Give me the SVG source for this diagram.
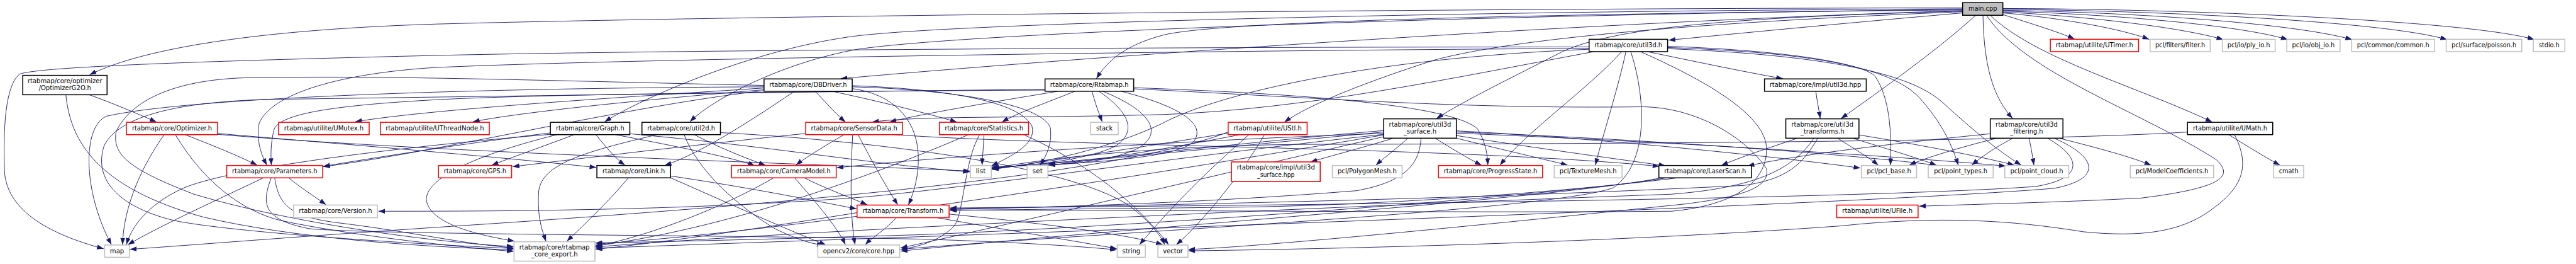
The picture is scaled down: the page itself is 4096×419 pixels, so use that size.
<svg xmlns="http://www.w3.org/2000/svg" width="4096" height="419" viewBox="0 0 4096 419">
<defs>
<marker id="a" markerUnits="userSpaceOnUse" markerWidth="14" markerHeight="10" viewBox="0 0 14 10" refX="14" refY="5" orient="auto"><path d="M0,0 L14,5 L0,10 z" fill="#191970"/></marker>
<style>
.n rect{fill:#fff;stroke-width:2}
.b rect{stroke:#000}
.r rect{stroke:#f00}
.g rect{stroke:#bfbfbf}
.m rect{fill:#bfbfbf;stroke:#000}
text{font-family:"DejaVu Sans","Liberation Sans",Arial,sans-serif;font-size:13px;fill:#000;text-anchor:middle}
.e path{fill:none;stroke:#191970;stroke-width:1.2;marker-end:url(#a)}
</style>
</defs>
<rect width="4096" height="419" fill="#fff"/>
<g transform="scale(0.77036)">
<g id="edges" class="e">
<path d="M4134,30 C4190,48 4250,66 4282,80.5"/>
<path d="M4134,26.6 C4260,37.5 4380,60 4436,81"/>
<path d="M4134,24.8 C4300,33 4500,55.6 4589,81.6"/>
<path d="M4134,23 C4350,29 4620,50.8 4722,81.6"/>
<path d="M4134,21.2 C4400,25.4 4730,47.1 4855,81.6"/>
<path d="M4134,19.3 C4450,21.8 4920,43.5 5051,81.6"/>
<path d="M4134,17.5 C4500,18.1 5100,42.3 5231,81.6"/>
<path d="M4108,31.4 C4200,120.9 4420,181.3 4566,251.4"/>
<path d="M4100,31.4 C4180,151.1 4420,229.7 4575,329.4 C4610,362.6 4590,386.8 4420,408 C4250,417 4100,420 3961,424.9"/>
<path d="M4093,31.4 C4095,151.1 4120,205.5 4154,244.2"/>
<path d="M4078,31.4 C4000,102.7 3880,187.4 3800,244.2"/>
<path d="M4051,26.6 C3800,48.4 3600,67.7 3444,82.8"/>
<path d="M4051,23 C3600,35.1 3330,54.4 3220,108.8 C3120,160.2 3020,208.5 2965,244.2"/>
<path d="M4051,24.2 C3600,42.3 3150,72.5 2960,123.9 C2800,175.3 2700,217.6 2651,251.4"/>
<path d="M4051,20.5 C3300,27.2 2520,41.1 2400,72.5 C2320,93.7 2285,126.9 2263,162"/>
<path d="M4051,21.8 C3200,48.4 2200,120.9 1735,162"/>
<path d="M4051,18.1 C3000,23 2000,47.1 1770,73.7 C1560,99.7 1330,199.5 1248,250.8"/>
<path d="M4051,19.3 C3000,31.4 2000,67.7 1770,101.5 C1610,130 1470,205.5 1424,250.8"/>
<path d="M4051,16.3 C3000,16.9 1500,33.2 900,49.6 C550,60.4 300,96.7 185,154.1"/>
<path d="M184,195.2 C230,211.5 280,232.7 323,251.4"/>
<path d="M136,195.2 C145,290.1 200,386.8 420,447.3 C600,489.6 850,507.7 1060,514.9"/>
<path d="M339,277.4 C295,338.5 255,423.1 253,504.1"/>
<path d="M382,277.4 C430,296 490,320 531,340.3"/>
<path d="M362,277.4 C420,374.7 500,435.2 580,454.5 C720,483.5 900,504.7 1060,518"/>
<path d="M449,275 C700,296.2 1000,320.3 1231,345.1"/>
<path d="M449,276.8 C900,314.3 1700,338.5 2002,352.4"/>
<path d="M1577,181.3 C1300,199.5 900,223.6 733,250.8"/>
<path d="M1577,184.9 C1400,199.5 1100,226.7 976,250.8"/>
<path d="M1577,186.8 C1300,217.6 900,314.3 667,343.3"/>
<path d="M1577,178.9 C1000,181.3 400,199.5 220,239.3 C170,259.9 170,392.9 230,504.1"/>
<path d="M1640,188 C1560,241.8 1450,314.3 1372,340.9"/>
<path d="M1682,188 C1700,205.5 1720,229.7 1745,251.4"/>
<path d="M1717,188 C1800,205.5 1900,229.7 1975,251.4"/>
<path d="M1759,176.5 C1900,181.3 2100,199.5 2130,259.9 C2140,296.2 2090,320.3 2046,342.1"/>
<path d="M1759,178.9 C1950,184.3 2150,211.5 2168,263.5 C2172,296.2 2160,320.3 2147,340.3"/>
<path d="M1759,182.5 C1840,193.4 1890,241.8 1895,314.3 C1898,362.6 1885,398.9 1875,422.5"/>
<path d="M1577,176 C1200,168 800,155 544,160 C400,158 280,190 240,270 C230,320 270,350 400,400 C600,460 900,500 1060,508"/>
<path d="M2219,188 C2160,211.5 2100,232.7 2068,251.4"/>
<path d="M2254,188 C2260,211.5 2268,232.7 2275,250.8"/>
<path d="M2268,188 C2330,229.7 2350,272 2300,302.2 C2250,326.4 2150,339.7 2047,345.7"/>
<path d="M2276,188 C2380,230 2400,275 2350,305 C2300,330 2220,338 2164,339.7"/>
<path d="M2314,188 C2430,217.6 2490,253.8 2465,290.1 C2440,320.3 2300,336 2047,344"/>
<path d="M2340,180.7 C2700,193.4 3000,217.6 3050,265.9 C3068,296.2 3070,320.3 3071,340.3"/>
<path d="M2340,183 C2700,200 3000,225 3393,220 C3500,222 3600,280 3646,347 C3655,385 3600,405 3480,420 C3000,470 2600,508 2453,514"/>
<path d="M2184,188 C2050,210 1900,235 1836,251.4"/>
<path d="M2157,185.6 C1600,188.6 1100,194.6 900,205.5 C700,216.4 580,232.7 566,265.9 C558,296.2 559,320.3 560,340.3"/>
<path d="M2157,184 C1600,190 900,200 544,205 C400,210 250,230 215,300 C195,360 230,420 350,452 C420,470 700,495 1060,512"/>
<path d="M3400,106.4 C3500,126.9 3600,148.1 3680,162"/>
<path d="M3347,106.4 C3280,181.3 3150,272 3096,340.3"/>
<path d="M3356,106.4 C3340,181.3 3310,272 3293,340.3"/>
<path d="M3442,95.5 C3700,104 3850,133 3870,157.1 C3900,199.5 3905,272 3902,340.3"/>
<path d="M3442,97.9 C3750,108.8 3900,139 3960,199.5 C4010,253.8 4030,302.2 4042,340.3"/>
<path d="M3442,100.3 C3800,114.8 3950,157.1 4010,211.5 C4070,265.9 4120,308.2 4172,340.3"/>
<path d="M3386,106.4 C3500,157.1 3640,229.7 3646,302.2 C3650,374.7 3580,423.1 3450,435.2 C3000,438.8 2400,432.8 1961,432.8"/>
<path d="M3366,106.4 C3400,211.5 3400,338.5 3330,386.8 C3200,435.2 2200,483.5 1859,513.7"/>
<path d="M3280,96.7 C2500,96.7 1400,102.7 900,114.2 C500,123.9 80,136 40,152.9 C5,181.3 8,302.2 9,346.9 C10,411 60,471.4 214,512.5"/>
<path d="M3280,99.7 C2500,104 1300,120.9 900,139 C700,151.1 560,193.4 535,253.8 C528,290.1 540,320.3 551,340.3"/>
<path d="M3290,106.4 C3000,160 2700,225 2400,236 C2100,244 1900,238 1800,251.4"/>
<path d="M3280,101.5 C2800,120.9 2500,199.5 2400,253.8 C2300,302.2 2150,338.5 2047,348.1"/>
<path d="M3748,188 C3750,205.5 3754,223.6 3757,244.2"/>
<path d="M3710,284.7 C3660,302.2 3600,320.3 3553,340.9"/>
<path d="M3793,284.7 C3830,308.2 3860,326.4 3877,340.3"/>
<path d="M3824,284.7 C3900,308.2 3960,326.4 3997,340.3"/>
<path d="M3837,278 C3950,296.2 4080,320.3 4158,340.3"/>
<path d="M3744,284.7 C3700,350.6 3620,386.8 3450,400.1 C2800,423.1 1600,477.5 1229,508.9"/>
<path d="M3752,284.7 C3720,338.5 3690,368.7 3600,382 C3000,412.2 2300,424.3 1961,429.7"/>
<path d="M4108,275.6 C3900,296.2 3700,320.3 3607,342.1"/>
<path d="M4122,284.7 C4050,302.2 3970,326.4 3941,340.3"/>
<path d="M4155,284.7 C4120,302.2 4085,326.4 4070,340.3"/>
<path d="M4188,284.7 C4192,302.2 4196,326.4 4198,340.3"/>
<path d="M4250,284.7 C4320,302.2 4400,323.4 4440,340.3"/>
<path d="M4226,284.7 C4300,326.4 4300,368.7 4200,384.4 C3800,412.2 2500,424.3 1961,428.5"/>
<path d="M4240,284.7 C4335,326.4 4335,369.9 4240,388 C3800,424.3 2000,483.5 1229,511.3"/>
<path d="M2876,284.7 C2820,302.2 2750,320.3 2705,333.6"/>
<path d="M2906,284.7 C2880,308.2 2855,326.4 2840,340.3"/>
<path d="M2962,284.7 C3000,308.2 3030,326.4 3058,340.3"/>
<path d="M3006,284.7 C3100,308.2 3180,326.4 3236,340.3"/>
<path d="M3006,279.2 C3150,302.2 3350,329.4 3438,341.5"/>
<path d="M3006,269.6 C3300,284.1 3700,326.4 3840,346.3"/>
<path d="M3006,272 C3400,286.5 3850,320.3 3998,340.9"/>
<path d="M3006,274.4 C3400,290.1 3900,320.3 4140,342.1"/>
<path d="M2933,284.7 C2930,338.5 2900,374.7 2800,392.9 C2500,417 2200,426.1 1961,431.5"/>
<path d="M2856,269 C2600,290.1 2300,326.4 2048,346.3"/>
<path d="M2856,272 C2600,296.2 2300,326.4 2164,337.3"/>
<path d="M2856,278 C2500,338.5 1700,471.4 1229,502.9"/>
<path d="M2856,281.7 C2500,362.6 2100,459.3 1859,510.7"/>
<path d="M2856,275 C2400,290.1 1900,326.4 1727,345.7"/>
<path d="M2856,276.8 C2500,314.3 2000,386.8 1780,406.2 C1400,435.2 1000,435.2 781,435.2"/>
<path d="M4600,277.4 C4640,302.2 4680,326.4 4706,340.3"/>
<path d="M4515,272 C4250,288.9 3500,296.2 2700,297.4 C2400,299.2 2150,326.4 2047,347.5"/>
<path d="M4612,277.4 C4650,350.6 4620,392.9 4560,435.2 C4500,477.5 4420,489.6 4300,477.5 C4150,453.3 4000,444.2 3800,465.4 C3300,501.7 2700,513.7 2453,516.8"/>
<path d="M2535,274.4 C2400,296.2 2200,326.4 2047,349.3"/>
<path d="M2560,277.4 C2400,308.2 2250,332.4 2164,340.3"/>
<path d="M2578,277.4 C2500,344.5 2420,423.1 2352,504.1"/>
<path d="M2610,277.4 C2560,362.6 2480,459.3 2428,504.1"/>
<path d="M2535,272 C2300,362.6 1600,423.1 900,468.4 C600,488.4 400,504.7 268,513.7"/>
<path d="M2031,277.4 C2030,302.2 2028,320.3 2027,340.3"/>
<path d="M2113,277.4 C2250,338.5 2350,423.1 2412,504.1"/>
<path d="M2022,277.4 C1990,332.4 1990,435.2 1970,465.4 C1940,495.6 1900,507.7 1859,513.7"/>
<path d="M1999,277.4 C1800,362.6 1500,471.4 1229,506.5"/>
<path d="M1742,277.4 C1700,302.2 1660,326.4 1643,340.3"/>
<path d="M1771,277.4 C1800,332.4 1830,386.8 1853,421.9"/>
<path d="M1760,277.4 C1755,362.6 1755,453.3 1765,504.1"/>
<path d="M1663,275 C1400,302.2 1200,326.4 1058,343.3"/>
<path d="M1846,277.4 C2200,302.2 3000,302.2 3425,342.7"/>
<path d="M1230,277.4 C1250,302.2 1270,326.4 1290,340.3"/>
<path d="M1185,277.4 C1120,302.2 1050,326.4 1015,340.3"/>
<path d="M1270,277.4 C1400,302.2 1520,326.4 1558,341.5"/>
<path d="M1300,275.6 C1600,302.2 1800,338.5 2002,354.2"/>
<path d="M1136,273.8 C1000,290.1 800,320.3 667,342.7"/>
<path d="M1136,276.8 C900,296.2 500,338.5 380,386.8 C300,423.1 270,471.4 261,504.1"/>
<path d="M1150,277.4 C1000,314.3 880,362.6 880,411 C885,459.3 980,483.5 1062,496.8"/>
<path d="M1433,277.4 C1480,302.2 1540,326.4 1580,340.3"/>
<path d="M1412,277.4 C1440,350.6 1520,423.1 1600,471.4 C1640,490.8 1670,501.7 1700,505.3"/>
<path d="M1356,277.4 C1200,314.3 1120,338.5 1112,392.9 C1108,447.3 1120,477.5 1127,497.4"/>
<path d="M1487,273.2 C1800,290.1 2200,338.5 2330,423.1 C2370,453.3 2395,483.5 2404,504.1"/>
<path d="M1297,366.3 C1260,411 1210,459.3 1170,496.8"/>
<path d="M1384,362.6 C1550,386.8 1700,417 1768,430.3"/>
<path d="M1384,366.3 C1500,417 1620,471.4 1705,504.7"/>
<path d="M1597,366.3 C1500,423.1 1350,483.5 1229,507.7"/>
<path d="M1660,366.3 C1700,386.8 1750,405 1790,421.9"/>
<path d="M1640,366.3 C1690,423.1 1730,471.4 1745,504.1"/>
<path d="M1850,448.5 C1830,471.4 1800,489.6 1786,504.1"/>
<path d="M1934,448.5 C2100,477.5 2250,501.7 2305,512.5"/>
<path d="M1959,441.2 C2150,459.3 2330,483.5 2400,504.1"/>
<path d="M1769,438.2 C1600,465.4 1400,495.6 1229,513.7"/>
<path d="M544,366.3 C450,411 330,465.4 264,504.1"/>
<path d="M596,366.3 C620,386.8 650,405 673,421.9"/>
<path d="M560,366.3 C538,423.1 545,453.3 640,471.4 C800,483.5 1400,483.5 1900,492.6 C2100,498.6 2250,508.9 2305,514.9"/>
<path d="M567,366.3 C575,423.1 600,447.3 700,459.3 C850,477.5 950,501.7 1060,510.7"/>
<path d="M3464,366.3 C3350,380.8 3000,417 2600,426.1 C2300,430.3 2100,431.5 1961,433.4"/>
<path d="M3440,366.3 C3300,392.9 2500,459.3 1900,483.5 C1600,492.6 1350,498.6 1229,500.4"/>
<path d="M3430,366.3 C3200,411 2300,471.4 1859,517.4"/>
</g>
<g id="n_main" class="n m"><rect x="4051" y="5.5" width="83" height="26"/><text x="4092.5" y="22.3" textLength="59" lengthAdjust="spacingAndGlyphs">main.cpp</text></g>
<g id="n_optg2o" class="n b"><rect x="47" y="155.3" width="174" height="39.9"/><text x="134" y="170.7" textLength="154" lengthAdjust="spacingAndGlyphs">rtabmap/core/optimizer</text><text x="134" y="185.6" textLength="108" lengthAdjust="spacingAndGlyphs">/OptimizerG2O.h</text></g>
<g id="n_dbdriver" class="n b"><rect x="1577" y="162.6" width="182" height="25.4"/><text x="1668" y="179.1" textLength="160" lengthAdjust="spacingAndGlyphs">rtabmap/core/DBDriver.h</text></g>
<g id="n_rtabmap" class="n b"><rect x="2157" y="162.6" width="183" height="25.4"/><text x="2248.5" y="179.1" textLength="162" lengthAdjust="spacingAndGlyphs">rtabmap/core/Rtabmap.h</text></g>
<g id="n_util3d" class="n b"><rect x="3280" y="81" width="162" height="25.4"/><text x="3361" y="97.5" textLength="140" lengthAdjust="spacingAndGlyphs">rtabmap/core/util3d.h</text></g>
<g id="n_util3dhpp" class="n b"><rect x="3642" y="162.6" width="210" height="25.4"/><text x="3747" y="179.1" textLength="189" lengthAdjust="spacingAndGlyphs">rtabmap/core/impl/util3d.hpp</text></g>
<g id="n_utimer" class="n r"><rect x="4232" y="81" width="182" height="25.4"/><text x="4323" y="97.5" textLength="160" lengthAdjust="spacingAndGlyphs">rtabmap/utilite/UTimer.h</text></g>
<g id="n_filter" class="n g"><rect x="4438" y="81" width="124" height="25.4"/><text x="4500" y="97.5" textLength="103" lengthAdjust="spacingAndGlyphs">pcl/filters/filter.h</text></g>
<g id="n_ply" class="n g"><rect x="4587" y="81" width="109" height="25.4"/><text x="4641.5" y="97.5" textLength="88" lengthAdjust="spacingAndGlyphs">pcl/io/ply_io.h</text></g>
<g id="n_obj" class="n g"><rect x="4720" y="81" width="110" height="25.4"/><text x="4775" y="97.5" textLength="88" lengthAdjust="spacingAndGlyphs">pcl/io/obj_io.h</text></g>
<g id="n_common" class="n g"><rect x="4854" y="81" width="171" height="25.4"/><text x="4939.5" y="97.5" textLength="149" lengthAdjust="spacingAndGlyphs">pcl/common/common.h</text></g>
<g id="n_poisson" class="n g"><rect x="5049" y="81" width="156" height="25.4"/><text x="5127" y="97.5" textLength="134" lengthAdjust="spacingAndGlyphs">pcl/surface/poisson.h</text></g>
<g id="n_stdio" class="n g"><rect x="5229" y="81" width="65" height="25.4"/><text x="5261.5" y="97.5" textLength="43" lengthAdjust="spacingAndGlyphs">stdio.h</text></g>
<g id="n_optimizer" class="n r"><rect x="261" y="252" width="188" height="25.4"/><text x="355" y="268.5" textLength="165" lengthAdjust="spacingAndGlyphs">rtabmap/core/Optimizer.h</text></g>
<g id="n_umutex" class="n r"><rect x="575" y="252" width="187" height="25.4"/><text x="668.5" y="268.5" textLength="164" lengthAdjust="spacingAndGlyphs">rtabmap/utilite/UMutex.h</text></g>
<g id="n_uthreadnode" class="n r"><rect x="785" y="252" width="225" height="25.4"/><text x="897.5" y="268.5" textLength="203" lengthAdjust="spacingAndGlyphs">rtabmap/utilite/UThreadNode.h</text></g>
<g id="n_graph" class="n b"><rect x="1136" y="252" width="164" height="25.4"/><text x="1218" y="268.5" textLength="141" lengthAdjust="spacingAndGlyphs">rtabmap/core/Graph.h</text></g>
<g id="n_util2d" class="n b"><rect x="1325" y="252" width="162" height="25.4"/><text x="1406" y="268.5" textLength="140" lengthAdjust="spacingAndGlyphs">rtabmap/core/util2d.h</text></g>
<g id="n_sensordata" class="n r"><rect x="1663" y="252" width="200" height="25.4"/><text x="1763" y="268.5" textLength="178" lengthAdjust="spacingAndGlyphs">rtabmap/core/SensorData.h</text></g>
<g id="n_statistics" class="n r"><rect x="1939" y="252" width="184" height="25.4"/><text x="2031" y="268.5" textLength="162" lengthAdjust="spacingAndGlyphs">rtabmap/core/Statistics.h</text></g>
<g id="n_stack" class="n g"><rect x="2251" y="252" width="57" height="25.4"/><text x="2279.5" y="268.5" textLength="34" lengthAdjust="spacingAndGlyphs">stack</text></g>
<g id="n_ustl" class="n r"><rect x="2535" y="252" width="163" height="25.4"/><text x="2616.5" y="268.5" textLength="141" lengthAdjust="spacingAndGlyphs">rtabmap/utilite/UStl.h</text></g>
<g id="n_surface" class="n b"><rect x="2856" y="244.8" width="150" height="39.9"/><text x="2931" y="260.4" textLength="128" lengthAdjust="spacingAndGlyphs">rtabmap/core/util3d</text><text x="2931" y="275.3" textLength="68" lengthAdjust="spacingAndGlyphs">_surface.h</text></g>
<g id="n_transforms" class="n b"><rect x="3686" y="244.8" width="151" height="39.9"/><text x="3761.5" y="260.4" textLength="128" lengthAdjust="spacingAndGlyphs">rtabmap/core/util3d</text><text x="3761.5" y="275.3" textLength="91" lengthAdjust="spacingAndGlyphs">_transforms.h</text></g>
<g id="n_filtering" class="n b"><rect x="4108" y="244.8" width="150" height="39.9"/><text x="4183" y="260.4" textLength="128" lengthAdjust="spacingAndGlyphs">rtabmap/core/util3d</text><text x="4183" y="275.3" textLength="68" lengthAdjust="spacingAndGlyphs">_filtering.h</text></g>
<g id="n_umath" class="n b"><rect x="4515" y="252" width="176" height="25.4"/><text x="4603" y="268.5" textLength="153" lengthAdjust="spacingAndGlyphs">rtabmap/utilite/UMath.h</text></g>
<g id="n_parameters" class="n r"><rect x="468" y="341" width="198" height="25.4"/><text x="567" y="357.5" textLength="176" lengthAdjust="spacingAndGlyphs">rtabmap/core/Parameters.h</text></g>
<g id="n_gps" class="n r"><rect x="905" y="341" width="151" height="25.4"/><text x="980.5" y="357.5" textLength="129" lengthAdjust="spacingAndGlyphs">rtabmap/core/GPS.h</text></g>
<g id="n_link" class="n b"><rect x="1232" y="341" width="152" height="25.4"/><text x="1308" y="357.5" textLength="129" lengthAdjust="spacingAndGlyphs">rtabmap/core/Link.h</text></g>
<g id="n_cameramodel" class="n r"><rect x="1510" y="341" width="216" height="25.4"/><text x="1618" y="357.5" textLength="193" lengthAdjust="spacingAndGlyphs">rtabmap/core/CameraModel.h</text></g>
<g id="n_list" class="n g"><rect x="2003" y="341" width="43" height="25.4"/><text x="2024.5" y="357.5" textLength="20" lengthAdjust="spacingAndGlyphs">list</text></g>
<g id="n_set" class="n g"><rect x="2120" y="341" width="43" height="25.4"/><text x="2141.5" y="357.5" textLength="21" lengthAdjust="spacingAndGlyphs">set</text></g>
<g id="n_surfacehpp" class="n r"><rect x="2542" y="333.6" width="183" height="40.5"/><text x="2633.5" y="349.6" textLength="161" lengthAdjust="spacingAndGlyphs">rtabmap/core/impl/util3d</text><text x="2633.5" y="364.5" textLength="77" lengthAdjust="spacingAndGlyphs">_surface.hpp</text></g>
<g id="n_polygonmesh" class="n g"><rect x="2750" y="341" width="144" height="25.4"/><text x="2822" y="357.5" textLength="122" lengthAdjust="spacingAndGlyphs">pcl/PolygonMesh.h</text></g>
<g id="n_progress" class="n r"><rect x="2969" y="341" width="215" height="25.4"/><text x="3076.5" y="357.5" textLength="193" lengthAdjust="spacingAndGlyphs">rtabmap/core/ProgressState.h</text></g>
<g id="n_texturemesh" class="n g"><rect x="3208" y="341" width="140" height="25.4"/><text x="3278" y="357.5" textLength="118" lengthAdjust="spacingAndGlyphs">pcl/TextureMesh.h</text></g>
<g id="n_laserscan" class="n b"><rect x="3424" y="341" width="191" height="25.4"/><text x="3519.5" y="357.5" textLength="169" lengthAdjust="spacingAndGlyphs">rtabmap/core/LaserScan.h</text></g>
<g id="n_pclbase" class="n g"><rect x="3842" y="341" width="114" height="25.4"/><text x="3899" y="357.5" textLength="91" lengthAdjust="spacingAndGlyphs">pcl/pcl_base.h</text></g>
<g id="n_pointtypes" class="n g"><rect x="3980" y="341" width="134" height="25.4"/><text x="4047" y="357.5" textLength="110" lengthAdjust="spacingAndGlyphs">pcl/point_types.h</text></g>
<g id="n_pointcloud" class="n g"><rect x="4138" y="341" width="132" height="25.4"/><text x="4204" y="357.5" textLength="109" lengthAdjust="spacingAndGlyphs">pcl/point_cloud.h</text></g>
<g id="n_modelcoef" class="n g"><rect x="4397" y="341" width="172" height="25.4"/><text x="4483" y="357.5" textLength="150" lengthAdjust="spacingAndGlyphs">pcl/ModelCoefficients.h</text></g>
<g id="n_cmath" class="n g"><rect x="4693" y="341" width="62" height="25.4"/><text x="4724" y="357.5" textLength="40" lengthAdjust="spacingAndGlyphs">cmath</text></g>
<g id="n_version" class="n g"><rect x="606" y="422.5" width="173" height="26"/><text x="692.5" y="439.3" textLength="151" lengthAdjust="spacingAndGlyphs">rtabmap/core/Version.h</text></g>
<g id="n_transform" class="n r"><rect x="1769" y="422.5" width="190" height="26"/><text x="1864" y="439.3" textLength="167" lengthAdjust="spacingAndGlyphs">rtabmap/core/Transform.h</text></g>
<g id="n_ufile" class="n r"><rect x="3791" y="422.5" width="168" height="26"/><text x="3875" y="439.3" textLength="145" lengthAdjust="spacingAndGlyphs">rtabmap/utilite/UFile.h</text></g>
<g id="n_map" class="n g"><rect x="216" y="504.7" width="51" height="25.4"/><text x="241.5" y="521.2" textLength="29" lengthAdjust="spacingAndGlyphs">map</text></g>
<g id="n_export" class="n g"><rect x="1061" y="498" width="167" height="40"/><text x="1144.5" y="513.7" textLength="145" lengthAdjust="spacingAndGlyphs">rtabmap/core/rtabmap</text><text x="1144.5" y="528.6" textLength="96" lengthAdjust="spacingAndGlyphs">_core_export.h</text></g>
<g id="n_corehpp" class="n g"><rect x="1688" y="504.7" width="169" height="25.4"/><text x="1772.5" y="521.2" textLength="147" lengthAdjust="spacingAndGlyphs">opencv2/core/core.hpp</text></g>
<g id="n_string" class="n g"><rect x="2306" y="504.7" width="58" height="25.4"/><text x="2335" y="521.2" textLength="37" lengthAdjust="spacingAndGlyphs">string</text></g>
<g id="n_vector" class="n g"><rect x="2390" y="504.7" width="62" height="25.4"/><text x="2421" y="521.2" textLength="41" lengthAdjust="spacingAndGlyphs">vector</text></g>
</g>
</svg>
